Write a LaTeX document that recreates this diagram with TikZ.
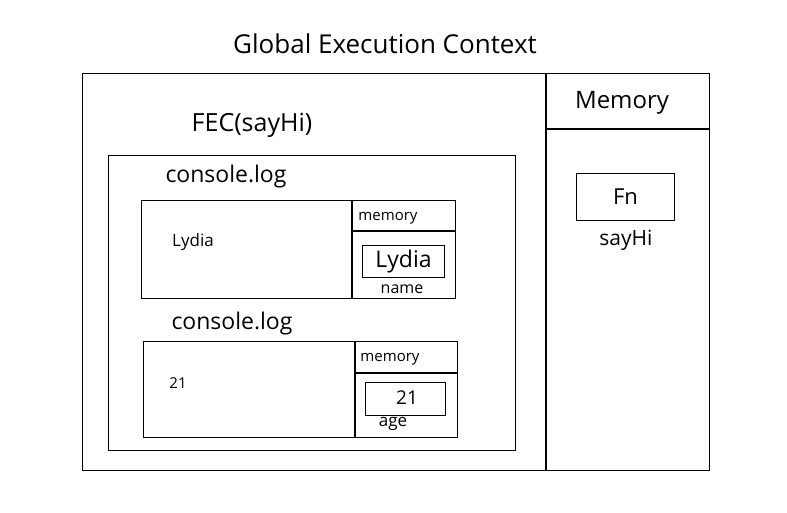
\documentclass[tikz,border=0pt]{standalone}
\usepackage{fontspec}
\setmainfont{Open Sans}
\begin{document}
\begin{tikzpicture}[x=1pt,y=-1pt,
  box/.style={draw, line width=1.4pt, rectangle, inner sep=0pt, anchor=north west},
  thin box/.style={draw, line width=1.1pt, rectangle, inner sep=0pt, anchor=north west},
  lbl/.style={inner sep=0pt, font=\fontsize{#1}{#1}\selectfont},
  sep/.style={line width=1.2pt}]
\useasboundingbox (0,0) rectangle (787,512);
% title
\node[lbl=26] (title) at (385,44) {Global Execution Context};
% outer box
\node[box, minimum width=627pt, minimum height=397pt] (outer) at (82,73) {};
\coordinate (dTop) at (546,73);
\coordinate (dBot) at (546,470);
\draw[sep] (dTop) -- (dBot);
\coordinate (mL) at (546,129);
\coordinate (mR) at (709,129);
\draw[sep] (mL) -- (mR);
\node[lbl=24] (memory) at (622,103) {Memory};
% Fn box
\node[thin box, minimum width=98pt, minimum height=47pt] (fnbox) at (576,173) {};
\node[lbl=22] (fn) at (fnbox.center) {Fn};
\node[lbl=21] (sayhi) at (626,240) {sayHi};
% FEC
\node[lbl=25] (fec) at (252,125) {FEC(sayHi)};
\node[box, minimum width=407pt, minimum height=295pt] (fecbox) at (108,155) {};
% first console.log
\node[lbl=23] (cl1) at (226,177) {console.log};
\node[box, minimum width=314pt, minimum height=98pt] (b1) at (141,200) {};
\coordinate (b1dT) at (352,200);
\coordinate (b1dB) at (352,298);
\draw[sep] (b1dT) -- (b1dB);
\coordinate (b1hL) at (352,231);
\coordinate (b1hR) at (455,231);
\draw[sep] (b1hL) -- (b1hR);
\node[lbl=15] (mem1) at (388,218) {memory};
\node[thin box, minimum width=82pt, minimum height=32pt] (v1) at (362,245) {};
\node[lbl=23] (lydia2) at (v1.center) {Lydia};
\node[lbl=16] (name) at (402,289) {name};
\node[lbl=17] (lydia1) at (193,242) {Lydia};
% second console.log
\node[lbl=23] (cl2) at (232,324) {console.log};
\node[box, minimum width=314pt, minimum height=96pt] (b2) at (143,341) {};
\coordinate (b2dT) at (355,341);
\coordinate (b2dB) at (355,437);
\draw[sep] (b2dT) -- (b2dB);
\coordinate (b2hL) at (355,373);
\coordinate (b2hR) at (457,373);
\draw[sep] (b2hL) -- (b2hR);
\node[lbl=15] (mem2) at (390,359) {memory};
\node[thin box, minimum width=80pt, minimum height=33pt] (v2) at (365,382) {};
\node[lbl=19] (age21) at (407,398) {21};
\node[lbl=17] (age) at (393,424) {age};
\node[lbl=15] (n21) at (178,383) {21};
\end{tikzpicture}
\end{document}
